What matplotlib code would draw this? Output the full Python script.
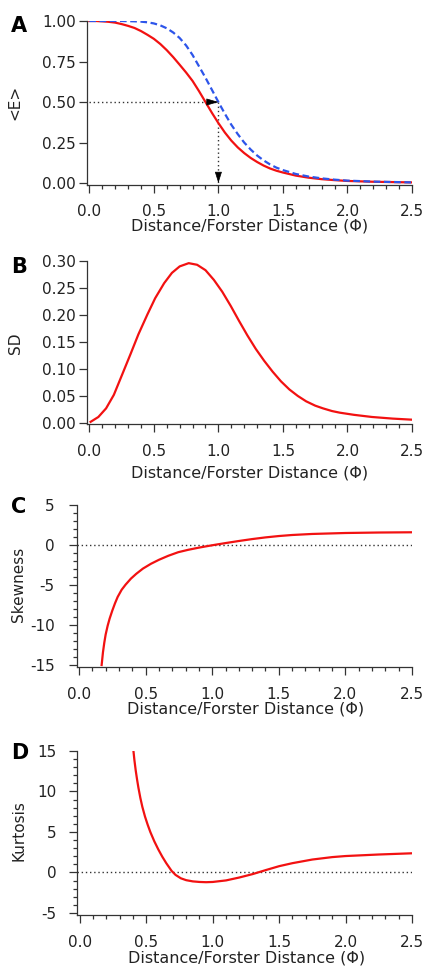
import matplotlib
matplotlib.use("Agg")
import matplotlib.pyplot as plt
from matplotlib.ticker import MultipleLocator, FormatStrFormatter

# ---------------- data ----------------
dist_A = [0.0, 0.05, 0.1, 0.15, 0.2, 0.25, 0.3, 0.35, 0.4, 0.45, 0.5, 0.55,
          0.6, 0.65, 0.7, 0.75, 0.8, 0.85, 0.9, 0.95, 1.0, 1.05, 1.1, 1.15,
          1.2, 1.25, 1.3, 1.35, 1.4, 1.45, 1.5, 1.6, 1.7, 1.8, 1.9, 2.0,
          2.2, 2.5]
E_mean = [1.0, 1.0, 0.998, 0.995, 0.99, 0.981, 0.97, 0.957, 0.938, 0.915,
          0.89, 0.858, 0.82, 0.777, 0.73, 0.682, 0.63, 0.567, 0.50, 0.433,
          0.37, 0.312, 0.262, 0.22, 0.185, 0.155, 0.13, 0.108, 0.09, 0.076,
          0.065, 0.046, 0.033, 0.024, 0.018, 0.013, 0.008, 0.004]
E_fixed = [1.0, 1.0, 1.0, 1.0, 1.0, 1.0, 0.999, 0.998, 0.996, 0.992, 0.985,
           0.973, 0.955, 0.929, 0.895, 0.849, 0.79, 0.72, 0.65, 0.575, 0.50,
           0.428, 0.36, 0.302, 0.25, 0.207, 0.17, 0.14, 0.115, 0.095, 0.08,
           0.056, 0.04, 0.029, 0.021, 0.015, 0.009, 0.004]
E_half = 0.5
dist_half = 1.0

dist_B = [0.01, 0.07, 0.13, 0.19, 0.25, 0.32, 0.38, 0.45, 0.51, 0.58, 0.64,
          0.70, 0.77, 0.835, 0.90, 0.965, 1.03, 1.095, 1.16, 1.225, 1.29,
          1.355, 1.42, 1.485, 1.55, 1.615, 1.68, 1.75, 1.81, 1.88, 1.94,
          2.05, 2.19, 2.35, 2.5]
SD = [0.002, 0.011, 0.027, 0.052, 0.087, 0.128, 0.164, 0.201, 0.231, 0.259,
      0.278, 0.290, 0.296, 0.293, 0.283, 0.265, 0.243, 0.217, 0.189, 0.162,
      0.137, 0.115, 0.095, 0.077, 0.062, 0.050, 0.040, 0.032, 0.027, 0.022,
      0.019, 0.015, 0.011, 0.008, 0.006]

dist_C = [0.17, 0.18, 0.19, 0.20, 0.215, 0.23, 0.25, 0.27, 0.29, 0.32, 0.35,
          0.39, 0.43, 0.48, 0.54, 0.6, 0.67, 0.745, 0.82, 0.9, 0.97, 1.03,
          1.1, 1.2, 1.3, 1.4, 1.5, 1.6, 1.75, 2.0, 2.25, 2.5]
skewness = [-15.0, -13.4, -12.2, -11.2, -10.1, -9.2, -8.2, -7.3, -6.5, -5.6,
            -4.95, -4.2, -3.6, -2.95, -2.35, -1.85, -1.35, -0.9, -0.6, -0.33,
            -0.12, 0.05, 0.24, 0.5, 0.74, 0.95, 1.12, 1.25, 1.38, 1.5, 1.56,
            1.59]

dist_D = [0.403, 0.41, 0.42, 0.43, 0.44, 0.455, 0.47, 0.49, 0.51, 0.53, 0.56,
          0.59, 0.62, 0.65, 0.69, 0.72, 0.76, 0.8, 0.85, 0.9, 0.95, 1.0, 1.1,
          1.2, 1.3, 1.4, 1.5, 1.6, 1.75, 1.9, 2.0, 2.25, 2.5]
kurtosis = [15.0, 13.9, 12.6, 11.5, 10.5, 9.2, 8.1, 6.9, 5.9, 5.0, 3.85,
            2.85, 1.95, 1.15, 0.2, -0.3, -0.72, -0.95, -1.1, -1.17, -1.2,
            -1.17, -0.98, -0.62, -0.2, 0.3, 0.78, 1.15, 1.6, 1.9, 2.03, 2.22,
            2.37]

x_ticks = [0.0, 0.5, 1.0, 1.5, 2.0, 2.5]
xlabel = "Distance/Forster Distance (\u03a6)"

# ---------------- style ----------------
plt.rcParams["font.family"] = ["DejaVu Sans"]
plt.rcParams["axes.unicode_minus"] = False
TXT = "#222222"
SPINE = "#333333"
RED = "#f21111"
BLUE = "#2d55ea"

W, H = 427, 969
fig = plt.figure(figsize=(W / 100, H / 100), dpi=100)


def fx(x):
    return x / W


def fy(y):
    return 1 - y / H


def make_ax(left, top, right, bottom):
    return fig.add_axes([fx(left), fy(bottom), (right - left) / W, (bottom - top) / H])


def style(ax, ypad, ymajor, yminor=None, yfmt=None, xpad=8.5):
    for s in ("top", "right"):
        ax.spines[s].set_visible(False)
    for s in ("left", "bottom"):
        ax.spines[s].set_color(SPINE)
        ax.spines[s].set_linewidth(0.9)
    ax.xaxis.set_major_locator(MultipleLocator(0.5))
    ax.xaxis.set_minor_locator(MultipleLocator(0.1))
    ax.xaxis.set_major_formatter(FormatStrFormatter("%.1f"))
    ax.yaxis.set_major_locator(MultipleLocator(ymajor))
    if yminor:
        ax.yaxis.set_minor_locator(MultipleLocator(yminor))
    else:
        ax.yaxis.set_minor_locator(plt.NullLocator())
    if yfmt:
        ax.yaxis.set_major_formatter(FormatStrFormatter(yfmt))
    ax.tick_params(axis="both", which="major", direction="out", length=6,
                   width=0.9, color=SPINE, labelsize=11, labelcolor=TXT)
    ax.tick_params(axis="both", which="minor", direction="out", length=3,
                   width=0.9, color=SPINE)
    ax.tick_params(axis="x", which="major", pad=xpad)
    ax.tick_params(axis="y", which="major", pad=ypad)


def labels(ax, ylab, ylab_xy, xlab_xy, letter, letter_xy):
    ax.set_xlabel(xlabel, fontsize=11.5, color=TXT)
    ax.xaxis.set_label_coords(fx(xlab_xy[0]), fy(xlab_xy[1]), transform=fig.transFigure)
    ax.xaxis.label.set_va("center")
    ax.set_ylabel(ylab, fontsize=11, color=TXT, rotation=90)
    ax.yaxis.set_label_coords(fx(ylab_xy[0]), fy(ylab_xy[1]), transform=fig.transFigure)
    ax.yaxis.label.set_va("center")
    ax.yaxis.label.set_ha("center")
    fig.text(fx(letter_xy[0]), fy(letter_xy[1]), letter, fontsize=15,
             fontweight="bold", color="black", ha="left", va="baseline")


dot = (0, (1, 2))

# ---------------- panel A ----------------
axA = make_ax(87, 21, 412, 185)
axA.plot([0.0, dist_half], [E_half, E_half], color="#333333", lw=1.0, ls=dot)
axA.plot([dist_half, dist_half], [E_half, 0.0], color="#333333", lw=1.0, ls=dot)
axA.plot(dist_A, E_mean, color=RED, lw=1.6, solid_joinstyle="round")
axA.plot(dist_A, E_fixed, color=BLUE, lw=1.6, ls=(0, (3, 1.6)))
axA.annotate("", xy=(dist_half, E_half), xytext=(dist_half - 0.05, E_half),
             arrowprops=dict(arrowstyle="-|>,head_length=0.75,head_width=0.22",
                             color="black", lw=0.5, shrinkA=0, shrinkB=0))
axA.annotate("", xy=(dist_half, 0.0), xytext=(dist_half, 0.05),
             arrowprops=dict(arrowstyle="-|>,head_length=0.7,head_width=0.22",
                             color="black", lw=0.5, shrinkA=0, shrinkB=0))
axA.set_xlim(-0.018, 2.5)
axA.set_ylim(-0.012, 1.0)
style(axA, ypad=2, ymajor=0.25, yfmt="%.2f", xpad=7.5)
axA.set_xticks(x_ticks)
labels(axA, "<E>", (15, 102), (250, 226), "A", (11, 32))

# ---------------- panel B ----------------
axB = make_ax(87, 261, 412, 424)
axB.plot(dist_B, SD, color=RED, lw=1.6, solid_joinstyle="round")
axB.set_xlim(-0.018, 2.5)
axB.set_ylim(-0.002, 0.30)
style(axB, ypad=2, ymajor=0.05, yfmt="%.2f")
axB.set_xticks(x_ticks)
labels(axB, "SD", (16, 343), (250, 473), "B", (11, 273))

# ---------------- panel C ----------------
axC = make_ax(77, 505, 412, 667)
axC.axhline(0, color="#333333", lw=1.0, ls=dot)
axC.plot(dist_C, skewness, color=RED, lw=1.6, solid_joinstyle="round")
axC.set_xlim(-0.015, 2.5)
axC.set_ylim(-15.25, 5)
style(axC, ypad=10, ymajor=5, yminor=1, yfmt="%d")
axC.set_xticks(x_ticks)
labels(axC, "Skewness", (19, 584), (246, 709), "C", (11, 513))

# ---------------- panel D ----------------
axD = make_ax(77, 751, 412, 915)
axD.axhline(0, color="#333333", lw=1.0, ls=dot)
axD.plot(dist_D, kurtosis, color=RED, lw=1.6, solid_joinstyle="round")
axD.set_xlim(-0.022, 2.5)
axD.set_ylim(-5.25, 15)
style(axD, ypad=9, ymajor=5, yminor=1, yfmt="%d")
axD.set_xticks(x_ticks)
labels(axD, "Kurtosis", (19, 831), (247, 958), "D", (11, 759))

fig.savefig("out.png", dpi=100, facecolor="white")
